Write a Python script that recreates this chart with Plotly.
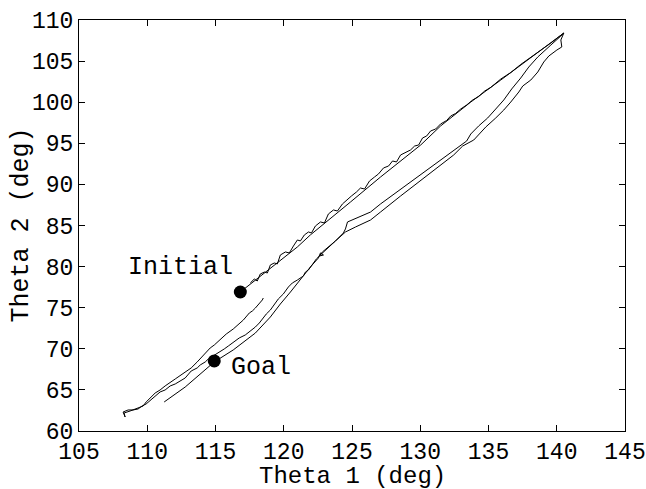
import plotly.graph_objects as go

# ---- data (degrees) ----
upper_smooth_x = [116.82,117.55,118.28,119.02,119.75,121.00,121.95,123.42,124.89,127.09,128.56,130.03,131.49,133.70,135.90,138.10,140.52]
upper_smooth_y = [76.91,77.88,78.86,79.83,80.80,82.39,83.85,85.91,87.86,90.90,92.85,94.79,97.11,100.02,102.70,105.38,108.42]

upper_jag_x = [117.55,117.84,118.06,118.28,118.58,118.80,119.02,119.31,119.53,119.75,120.12,120.41,120.71,121.00,121.22,121.51,121.81,122.03,122.32,122.69,122.98,123.27,123.64,123.93,124.30,124.67,124.96,125.33,125.62,125.92,126.28,126.65,126.94,127.31,127.68,127.97,128.26,128.56,128.93,129.29,129.59,129.88,130.17,130.47,130.76,131.13,131.49,131.93,132.23,132.59,132.96,133.40,133.84,134.28,134.72,135.16,135.90,136.63,137.36,138.10,138.83,139.57,140.52]
upper_jag_y = [78.01,78.49,78.25,79.10,79.34,79.22,80.20,80.44,80.32,81.41,81.78,81.66,82.51,83.24,83.12,83.85,84.21,84.09,84.94,85.43,85.31,86.40,86.89,86.76,87.62,88.22,88.59,89.08,89.56,89.44,90.41,90.90,91.27,92.00,92.24,92.85,92.73,93.58,93.94,94.19,94.67,94.79,95.65,95.89,96.50,96.74,97.35,97.77,98.32,98.63,99.17,99.66,100.27,100.69,101.36,101.79,102.82,103.61,104.59,105.44,106.35,107.20,108.42]

return_a_x = [140.52,140.30,140.37,140.01,139.42,139.05,138.61,138.10,137.51,137.22,136.63,136.12,135.53,134.80,133.92,133.11,132.45,131.49,130.03,128.56,127.09,126.36,125.26,124.52,123.79,123.05,122.83,122.61,122.91,122.69,122.54,121.95,121.22,120.49,119.75,119.02,117.92,116.30,114.91,113.88,112.78,111.24]
return_a_y = [108.42,107.57,106.72,106.35,105.62,104.89,103.67,102.70,101.97,101.24,100.02,99.05,98.08,96.98,95.40,94.67,93.58,92.36,90.41,88.59,86.64,85.67,84.82,84.21,83.12,82.02,81.78,81.29,81.41,81.66,81.05,79.95,78.37,76.91,75.45,73.87,71.92,69.86,68.40,66.94,65.35,63.53]

return_b_x = [140.52,140.30,139.57,138.61,137.95,137.36,136.70,136.12,135.53,134.94,134.28,133.70,133.40,132.59,131.49,130.03,128.56,127.09,126.36,125.48,124.67,124.52,124.37,123.79,123.20,122.76,122.39,122.17,121.81,121.59,121.44,121.00,120.63,120.34,119.97,119.60,119.38,119.02,118.72,118.50,118.21,117.92,117.55,117.18,116.74,116.30,115.94,115.64,115.27,114.91,114.47,114.25,113.88,113.66,113.22,112.78,112.41,112.05,111.68,111.31,110.94,110.58,110.21,109.92,109.62,109.33,108.96,108.60,108.23,108.38,
              108.30,108.74,109.26,109.70,109.92,110.21,110.58,110.94,111.31,112.05,112.78,113.22,113.66,114.25,114.61,114.91,115.35,115.79,116.30,116.67,117.04,117.48,117.70,117.92,118.14,118.28,118.43,118.50]
return_b_y = [108.42,108.05,106.96,105.50,104.28,102.94,101.61,100.27,99.17,98.08,97.11,96.13,95.28,94.31,92.97,91.14,89.44,87.62,86.64,86.03,85.43,84.58,84.09,83.12,82.26,81.53,80.93,80.44,79.59,79.34,78.86,78.37,78.01,77.52,76.67,76.06,75.57,74.72,74.23,73.75,73.14,72.65,72.17,71.68,71.32,70.83,70.34,69.98,69.61,69.25,68.76,68.40,68.03,67.67,67.30,66.45,66.08,65.72,65.48,64.99,64.75,64.26,63.77,63.29,63.04,62.68,62.56,62.56,62.31,61.70,
              62.19,62.43,62.80,63.04,63.53,64.02,64.62,64.99,65.48,66.33,67.18,67.67,68.40,69.49,70.10,70.46,71.19,71.80,72.41,73.02,73.50,74.36,74.60,74.96,75.33,75.69,75.94,76.18]

point_labels = ["Initial", "Goal"]
point_x = [116.82, 114.91]
point_y = [76.91, 68.52]
label_x = [112.41, 118.32]
label_y = [79.95, 67.67]

x_ticks = list(range(105, 146, 5))
y_ticks = list(range(60, 111, 5))
x_title = "Theta 1 (deg)"
y_title = "Theta 2 (deg)"

FONT = "Liberation Mono, Courier New, monospace"

fig = go.Figure()
line_style = dict(color="black", width=1)
for xs, ys in [(upper_smooth_x, upper_smooth_y), (upper_jag_x, upper_jag_y),
               (return_a_x, return_a_y), (return_b_x, return_b_y)]:
    fig.add_trace(go.Scatter(x=xs, y=ys, mode="lines", line=line_style,
                             showlegend=False, hoverinfo="skip"))

fig.add_trace(go.Scatter(x=point_x, y=point_y, mode="markers",
                         marker=dict(color="black", size=13),
                         showlegend=False, hoverinfo="skip"))

for t, lx, ly in zip(point_labels, label_x, label_y):
    fig.add_annotation(x=lx, y=ly, text=t, showarrow=False, xref="x", yref="y",
                       font=dict(family=FONT, size=25, color="black"))

# axis titles placed as annotations for exact placement
fig.add_annotation(text=x_title, xref="paper", yref="paper", x=0.5, y=0,
                   xanchor="center", yanchor="middle", yshift=-45, showarrow=False,
                   borderpad=0,
                   font=dict(family=FONT, size=24, color="black"))
fig.add_annotation(text=y_title, xref="paper", yref="paper", x=0, y=0.5,
                   xanchor="center", yanchor="middle", xshift=-58, textangle=-90,
                   showarrow=False, borderpad=0,
                   font=dict(family=FONT, size=25, color="black"))

axis_common = dict(showgrid=False, zeroline=False, showline=True, linecolor="black",
                   linewidth=1, mirror="ticks", ticks="inside", ticklen=6,
                   tickcolor="black", tickwidth=1,
                   tickfont=dict(family=FONT, size=23, color="black"))

fig.update_xaxes(range=[105, 145], tickvals=x_ticks, ticktext=[str(v) for v in x_ticks],
                 ticklabelstandoff=-1, **axis_common)
fig.update_yaxes(range=[60, 110], tickvals=y_ticks, ticktext=[str(v) for v in y_ticks],
                 **axis_common)

fig.update_layout(width=646, height=489, plot_bgcolor="white", paper_bgcolor="white",
                  margin=dict(l=79, r=21, t=20, b=58, autoexpand=False))

# remove the default 8px page margin so the figure fills the window exactly
fig.write_html("out.html", config={"displayModeBar": False},
               post_script="document.body.style.margin='0';")
